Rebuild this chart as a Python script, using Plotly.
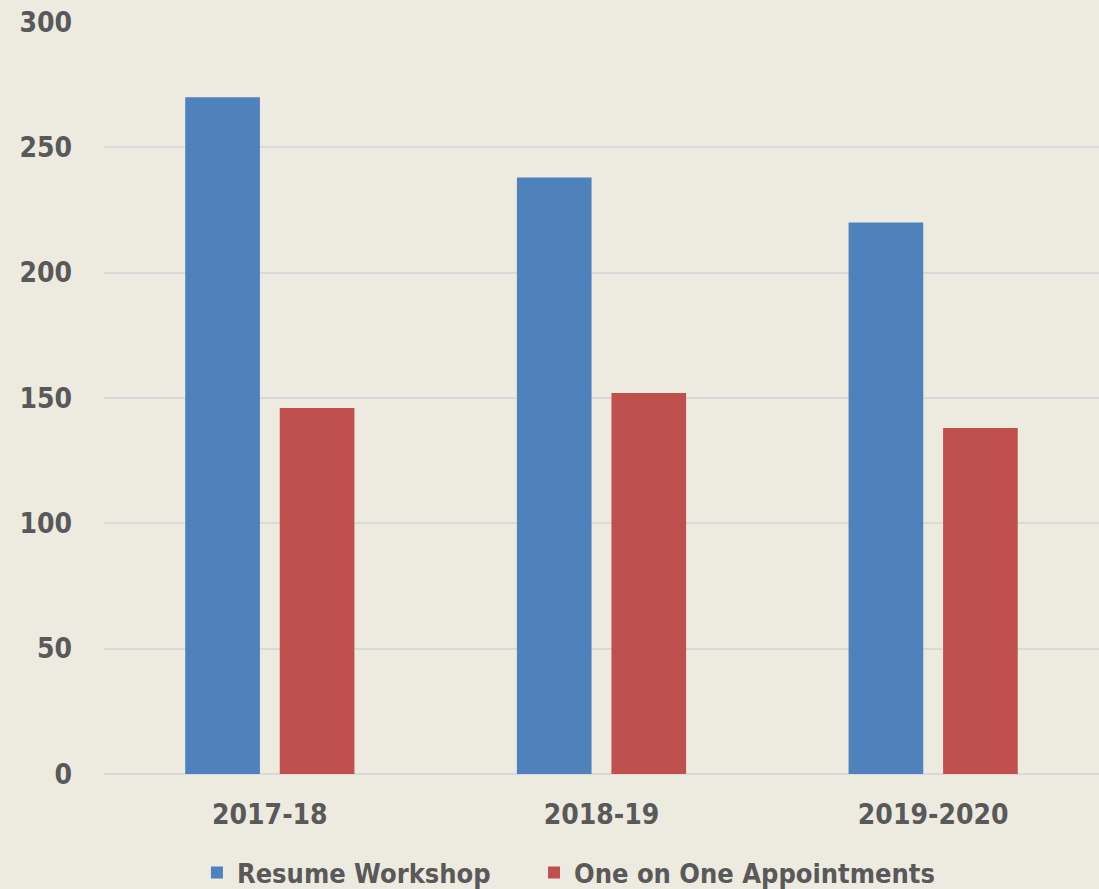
import plotly.graph_objects as go

categories = ["2017-18", "2018-19", "2019-2020"]
resume_workshop = [270, 238, 220]
one_on_one = [146, 152, 138]
y_ticks = [0, 50, 100, 150, 200, 250, 300]

BG = "#EDEBE0"
TXT = "#595959"
COND = "DejaVu Sans Condensed, Liberation Sans Narrow, Arial Narrow, sans-serif"

fig = go.Figure()
fig.add_trace(go.Bar(name="Resume Workshop", x=categories, y=resume_workshop,
                     marker=dict(color="#4F81BD", line=dict(width=0)), legend="legend"))
fig.add_trace(go.Bar(name="One on One Appointments", x=categories, y=one_on_one,
                     marker=dict(color="#C0504D", line=dict(width=0)), legend="legend2"))

legend_font = dict(family=COND, size=27, color=TXT, weight="bold")

fig.update_layout(
    width=1099, height=889,
    paper_bgcolor=BG, plot_bgcolor=BG,
    margin=dict(l=104, r=0, t=22, b=115, autoexpand=False),
    barmode="group", bargap=0.43, bargroupgap=0.21,
    showlegend=True,
    legend=dict(orientation="h", x=0.0934, xanchor="left", y=-0.1316, yanchor="middle",
                font=legend_font, bgcolor="rgba(0,0,0,0)"),
    legend2=dict(orientation="h", x=0.4322, xanchor="left", y=-0.1316, yanchor="middle",
                 font=legend_font, bgcolor="rgba(0,0,0,0)"),
    xaxis=dict(showgrid=False, showline=False, ticks="", ticklabelstandoff=21,
               tickfont=dict(family=COND, size=28, color=TXT, weight="bold")),
    yaxis=dict(range=[0, 300], tickvals=y_ticks, showgrid=True, gridcolor="#D9D9D9",
               gridwidth=2, zeroline=True, zerolinecolor="#D9D9D9", zerolinewidth=2,
               showline=False, ticks="", ticklabelstandoff=31,
               tickfont=dict(family=COND, size=28, color=TXT, weight="bold")),
)

fig.write_html("out.html", config={"displayModeBar": False},
               post_script="document.body.style.margin='0';document.body.style.background='%s';" % BG)
